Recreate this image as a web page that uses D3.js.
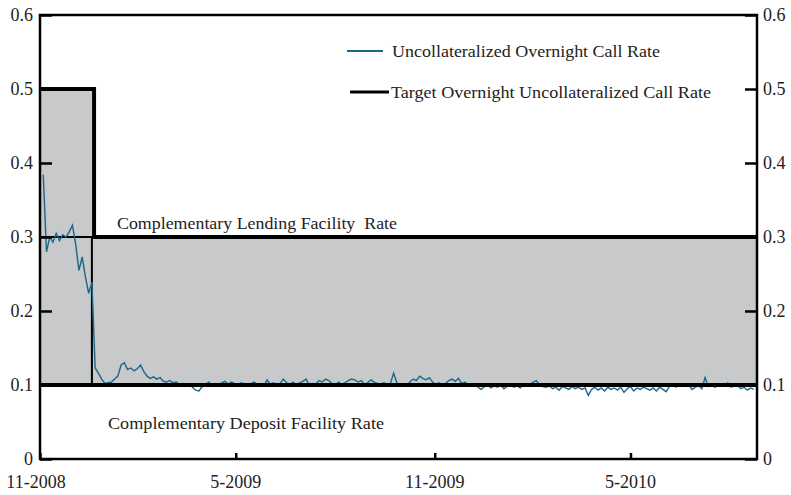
<!DOCTYPE html>
<html>
<head>
<meta charset="utf-8">
<script src="https://cdn.jsdelivr.net/npm/d3@7"></script>
<style>
body { margin: 0; background: #fff; }
text { font-family: 'Liberation Serif', 'DejaVu Serif', serif; fill: #222; }
</style>
</head>
<body>
<div id="chart"></div>
<script>
// data________________________________________________________________________________
const yTicks = [0, 0.1, 0.2, 0.3, 0.4, 0.5, 0.6];
const xTicks = ['2008-11-01', '2009-05-01', '2009-11-01', '2010-05-01'];
const xTickLabels = ['11-2008', '5-2009', '11-2009', '5-2010'];

// complementary lending facility rate (top of the band)
const lendDates = ['2008-11-01', '2008-12-21', '2010-08-26'];
const lendRates = [0.5, 0.3, 0.3];
// complementary deposit facility rate (bottom of the band)
const depoDates = ['2008-11-01', '2010-08-26'];
const depoRates = [0.1, 0.1];
// target overnight rate
const targetDates = ['2008-11-01', '2008-12-19', '2010-08-26'];
const targetRates = [0.3, 0.1, 0.1];

// uncollateralized overnight call rate, part 1: every 3 days from 2008-11-04
const callStart1 = '2008-11-04';
const callRate1 = [0.384, 0.28, 0.30, 0.293, 0.305, 0.295, 0.303, 0.30, 0.307, 0.316,
    0.29, 0.255, 0.273, 0.246, 0.224, 0.239];
// part 2: every 3 days from 2008-12-22
const callStart2 = '2008-12-22';
const callRate2 = [
    0.123, 0.116, 0.108, 0.102, 0.103, 0.104, 0.108, 0.112, 0.127, 0.13,
    0.121, 0.123, 0.119, 0.122, 0.127, 0.118, 0.112, 0.109, 0.111, 0.108,
    0.11, 0.105, 0.104, 0.106, 0.103, 0.104, 0.101, 0.102, 0.1, 0.101,
    0.097, 0.093, 0.092, 0.098, 0.101, 0.104, 0.1, 0.102, 0.099, 0.103,
    0.105, 0.101, 0.104, 0.102, 0.1, 0.103, 0.101, 0.099, 0.102, 0.104,
    0.1, 0.101, 0.099, 0.107, 0.101, 0.103, 0.1, 0.102, 0.108, 0.103,
    0.101, 0.104, 0.1, 0.103, 0.105, 0.108, 0.1, 0.102, 0.101, 0.106,
    0.104, 0.108, 0.106, 0.102, 0.1, 0.104, 0.101, 0.103, 0.106, 0.108,
    0.107, 0.104, 0.106, 0.101, 0.103, 0.107, 0.104, 0.102, 0.101, 0.103,
    0.101, 0.102, 0.116, 0.103, 0.1, 0.101, 0.099, 0.104, 0.108, 0.106,
    0.112, 0.109, 0.107, 0.11, 0.104, 0.101, 0.103, 0.1, 0.102, 0.106,
    0.108, 0.105, 0.109, 0.102, 0.104, 0.1, 0.098, 0.101, 0.097, 0.094,
    0.098, 0.1, 0.096, 0.099, 0.097, 0.1, 0.095, 0.098, 0.101, 0.097,
    0.099, 0.096, 0.1, 0.098, 0.101, 0.104, 0.106, 0.1, 0.098, 0.097,
    0.099, 0.095, 0.097, 0.093, 0.098, 0.096, 0.094, 0.098, 0.095, 0.097,
    0.094, 0.096, 0.086, 0.094, 0.097, 0.093, 0.096, 0.092, 0.097, 0.094,
    0.096, 0.093, 0.097, 0.09, 0.095, 0.098, 0.092, 0.096, 0.094, 0.097,
    0.095, 0.093, 0.096, 0.092, 0.097, 0.094, 0.091, 0.098, 0.1, 0.097,
    0.101, 0.099, 0.098, 0.1, 0.094, 0.097, 0.099, 0.095, 0.11, 0.098,
    0.1, 0.097, 0.099, 0.1, 0.098, 0.103, 0.097, 0.099, 0.1, 0.095,
    0.097, 0.093, 0.096, 0.094];

const parse = d3.utcParse('%Y-%m-%d');
const pairs = (dates, vals) => dates.map((d, i) => ({date: parse(d), value: vals[i]}));
const stepped = (start, vals) => vals.map((v, i) => ({date: d3.utcDay.offset(parse(start), i * 3), value: v}));

const lend = pairs(lendDates, lendRates);
const depo = pairs(depoDates, depoRates);
const target = pairs(targetDates, targetRates);
const call = stepped(callStart1, callRate1).concat(stepped(callStart2, callRate2));

// layout________________________________________________________________________________
const width = 791;
const height = 495;
const margin = {top: 15, left: 40, bottom: 36, right: 34};

const x = d3.scaleUtc()
    .domain([parse('2008-11-01'), parse('2010-08-26')])
    .range([margin.left, width - margin.right]);

const y = d3.scaleLinear()
    .domain([0, 0.6])
    .range([height - margin.bottom, margin.top]);

const svg = d3.select('#chart').append('svg').attr('width', width).attr('height', height);

// shaded corridor
svg.append('path')
    .datum(lend)
    .attr('fill', '#c8c9cb')
    .attr('d', d3.area().curve(d3.curveStepAfter)
        .x(d => x(d.date)).y0(y(0.1)).y1(d => y(d.value)));

// target rate (thin)
svg.append('path')
    .datum(target)
    .attr('fill', 'none')
    .attr('stroke', '#000')
    .attr('stroke-width', 2)
    .attr('d', d3.line().curve(d3.curveStepAfter).x(d => x(d.date)).y(d => y(d.value)));

// call rate
svg.append('path')
    .datum(call)
    .attr('fill', 'none')
    .attr('stroke', '#1c6688')
    .attr('stroke-width', 1.4)
    .attr('d', d3.line().x(d => x(d.date)).y(d => y(d.value)));

// lending & deposit facility rates (thick)
[lend, depo].forEach(s => svg.append('path')
    .datum(s)
    .attr('fill', 'none')
    .attr('stroke', '#000')
    .attr('stroke-width', 4)
    .attr('d', d3.line().curve(d3.curveStepAfter).x(d => x(d.date)).y(d => y(d.value))));

// axes
const yLeft = g => g
    .attr('transform', `translate(${margin.left}, 0)`)
    .call(d3.axisRight(y).tickValues(yTicks).tickSize(12).tickFormat(''))
    .call(g => g.select('.domain').remove());

const yRight = g => g
    .attr('transform', `translate(${width - margin.right}, 0)`)
    .call(d3.axisLeft(y).tickValues(yTicks).tickSize(12).tickFormat(''))
    .call(g => g.select('.domain').remove());

const xBottom = g => g
    .attr('transform', `translate(0, ${height - margin.bottom})`)
    .call(d3.axisTop(x).tickValues(xTicks.map(parse)).tickSize(6).tickFormat(''))
    .call(g => g.select('.domain').remove());

svg.append('g').call(yLeft);
svg.append('g').call(yRight);
svg.append('g').call(xBottom);
svg.selectAll('.tick line').attr('stroke', '#000').attr('stroke-width', 2.5);

// frame
svg.append('rect')
    .attr('x', margin.left).attr('y', margin.top)
    .attr('width', width - margin.left - margin.right)
    .attr('height', height - margin.top - margin.bottom)
    .attr('fill', 'none').attr('stroke', '#000').attr('stroke-width', 2.5);

// tick labels
svg.append('g').selectAll('text').data(yTicks).enter().append('text')
    .attr('x', margin.left - 7).attr('y', d => y(d) + 6)
    .attr('text-anchor', 'end').attr('font-size', 18)
    .text(d => d === 0 ? '0' : d.toFixed(1));

svg.append('g').selectAll('text').data(yTicks).enter().append('text')
    .attr('x', width - margin.right + 6).attr('y', d => y(d) + 6)
    .attr('font-size', 18)
    .text(d => d === 0 ? '0' : d.toFixed(1));

svg.append('g').selectAll('text').data(xTicks).enter().append('text')
    .attr('x', (d, i) => x(parse(d)) - (i === 0 ? 4 : 0)).attr('y', height - 7)
    .attr('text-anchor', 'middle').attr('font-size', 18)
    .text((d, i) => xTickLabels[i]);

// annotations and legend text, stretched to the reference widths
const label = (tx, ty, len, s) => svg.append('text')
    .attr('x', tx).attr('y', ty).attr('font-size', 17)
    .attr('textLength', len).attr('lengthAdjust', 'spacingAndGlyphs')
    .attr('xml:space', 'preserve')
    .text(s);

label(117, 229, 280, 'Complementary Lending Facility  Rate');
label(108, 429, 276, 'Complementary Deposit Facility Rate');

svg.append('line').attr('x1', 347).attr('x2', 383).attr('y1', 51).attr('y2', 51)
    .attr('stroke', '#1c6688').attr('stroke-width', 2);
label(392, 57, 268, 'Uncollateralized Overnight Call Rate');
svg.append('line').attr('x1', 350).attr('x2', 389).attr('y1', 92).attr('y2', 92)
    .attr('stroke', '#000').attr('stroke-width', 3);
label(391, 98, 320, 'Target Overnight Uncollateralized Call Rate');
</script>
</body>
</html>
